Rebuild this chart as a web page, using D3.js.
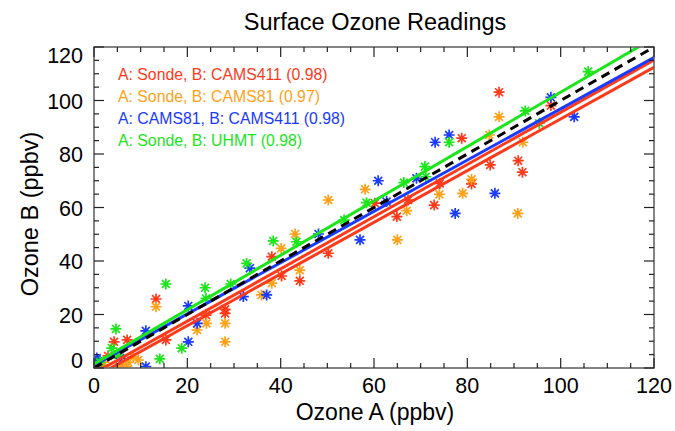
<!DOCTYPE html>
<html><head><meta charset="utf-8">
<script src="https://cdn.jsdelivr.net/npm/d3@7"></script>
<style>body{margin:0;background:#fff}svg{display:block;font-family:"Liberation Sans",Arial,sans-serif}</style>
</head><body><svg id="c" width="675" height="431"></svg>
<script>
const xTicks = [0,20,40,60,80,100,120];
const yTicks = [0,20,40,60,80,100,120];
const seriesNames = ["A: Sonde, B: CAMS411 (0.98)","A: Sonde, B: CAMS81 (0.97)","A: CAMS81, B: CAMS411 (0.98)","A: Sonde, B: UHMT (0.98)"];
const seriesColors = ["#ff3a1a","#ffa21a","#1a3aff","#1ae61a"];
const redPts = [[86.8,103.1],[97.9,98.1],[90.9,77.5],[84.9,75.9],[91.8,73.2],[80.9,68.8],[78.8,85.9],[74.1,69.0],[60.2,61.6],[67.3,62.8],[72.9,60.9],[64.9,56.6],[50.2,42.9],[44.1,32.6],[40.2,34.4],[38.1,41.6],[13.3,25.8],[28.1,21.9],[28.1,20.4],[24.0,19.8],[4.3,9.8],[7.1,10.5],[15.4,10.5],[3.0,4.5],[1.3,1.1],[6,0]];
const orangePts = [[86.8,93.9],[84.7,87.1],[91.9,84.4],[80.9,70.5],[90.8,57.8],[58.1,66.8],[74.0,64.9],[79.0,65.3],[50.2,62.8],[67.0,58.8],[65.0,47.9],[43.1,50.1],[44.1,36.6],[40.1,44.7],[13.3,22.9],[28.1,16.7],[35.9,27.3],[38.1,31.7],[22.1,14.2],[24.1,16.7],[28.1,9.8],[9.5,3.0],[7.0,0.5],[2.1,2.2],[5.4,0.7],[7.3,2.2],[8.4,4.2]];
const bluePts = [[97.9,101.2],[102.9,93.9],[85.9,65.3],[73.1,84.4],[76.1,87.1],[60.9,70.0],[69.1,70.9],[62.7,62.2],[77.4,57.8],[57.0,47.9],[48.1,50.1],[33.4,37.3],[20.2,23.2],[32.0,26.7],[37.0,27.3],[22.1,16.7],[11.1,13.9],[20.2,9.8],[11.1,0.5],[0.6,3.0],[0.6,3.7],[5.6,3.7]];
const greenPts = [[105.9,110.8],[92.4,96.1],[95.4,91.5],[76.1,84.4],[70.9,75.3],[71.1,71.5],[66.4,69.3],[58.4,61.8],[53.6,55.3],[43.4,47.2],[38.4,47.5],[32.7,39.1],[15.4,31.4],[23.8,30.0],[29.3,31.4],[24.0,26.0],[4.7,14.6],[18.8,7.4],[14.1,3.4],[3.8,7.4],[1.3,2.2],[5.1,4.9]];
// fit lines: [intercept, slope]
const fitLines = [[-3.5,0.966],[-2,0.976],[1,0.959],[1.5,1.016]];
const fitColors = ["#ff3a1a","#ff3a1a","#1a3aff","#1ae61a"];

const svg = d3.select("#c");
const L=94,R=654,T=47,B=368;
const x = d3.scaleLinear().domain([0,120]).range([L,R]);
const y = d3.scaleLinear().domain([0,120]).range([B,T]);
svg.append("defs").append("clipPath").attr("id","pc").append("rect")
  .attr("x",L).attr("y",T).attr("width",R-L).attr("height",B-T);
const plot = svg.append("g").attr("clip-path","url(#pc)");

const star = r => `M${-r},0L${r},0M0,${-r}L0,${r}M${-r*0.72},${-r*0.72}L${r*0.72},${r*0.72}M${-r*0.72},${r*0.72}L${r*0.72},${-r*0.72}`;
[redPts,orangePts,bluePts,greenPts].forEach((pts,i)=>{
  plot.append("g").selectAll("path").data(pts).join("path")
    .attr("transform",d=>`translate(${x(d[0])},${y(d[1])})`)
    .attr("d",star(5.5)).attr("stroke",seriesColors[i]).attr("stroke-width",1.7).attr("fill","none");
});
fitLines.forEach((f,i)=>{
  plot.append("line").attr("x1",x(-2)).attr("y1",y(f[0]-2*f[1])).attr("x2",x(125)).attr("y2",y(f[0]+125*f[1]))
    .attr("stroke",fitColors[i]).attr("stroke-width",3);
});
plot.append("line").attr("x1",x(0)).attr("y1",y(0)).attr("x2",x(120)).attr("y2",y(120))
  .attr("stroke","#000").attr("stroke-width",3).attr("stroke-dasharray","9,6");

// frame
svg.append("rect").attr("x",L).attr("y",T).attr("width",R-L).attr("height",B-T)
  .attr("fill","none").attr("stroke","#666").attr("stroke-width",1.6);
const minor = d3.range(0,121,5);
const tk = svg.append("g").attr("stroke","#222").attr("stroke-width",1.2);
minor.forEach(v=>{
  const len = v%20===0?10:5;
  tk.append("line").attr("x1",x(v)).attr("x2",x(v)).attr("y1",B).attr("y2",B-len);
  tk.append("line").attr("x1",x(v)).attr("x2",x(v)).attr("y1",T).attr("y2",T+len);
  tk.append("line").attr("y1",y(v)).attr("y2",y(v)).attr("x1",L).attr("x2",L+len);
  tk.append("line").attr("y1",y(v)).attr("y2",y(v)).attr("x1",R).attr("x2",R-len);
});
svg.append("g").selectAll("text").data(xTicks).join("text")
  .attr("x",d=>x(d)).attr("y",393).attr("text-anchor","middle").attr("font-size",21.5).text(d=>d);
const yNudge = v => v===120?8:(v===0?-8:0);
svg.append("g").selectAll("text").data(yTicks).join("text")
  .attr("x",83).attr("y",d=>y(d)+8+yNudge(d)).attr("text-anchor","end").attr("font-size",21.5).text(d=>d);

svg.append("text").attr("x",375).attr("y",30).attr("text-anchor","middle").attr("font-size",23.5).text("Surface Ozone Readings");
svg.append("text").attr("x",375).attr("y",420).attr("text-anchor","middle").attr("font-size",23).text("Ozone A (ppbv)");
svg.append("text").attr("transform","translate(38,214) rotate(-90)").attr("text-anchor","middle").attr("font-size",23.5).text("Ozone B (ppbv)");

svg.append("g").selectAll("text").data(seriesNames).join("text")
  .attr("x",118).attr("y",(d,i)=>80+i*22).attr("font-size",15.8).attr("fill",(d,i)=>seriesColors[i]).text(d=>d);
</script></body></html>
